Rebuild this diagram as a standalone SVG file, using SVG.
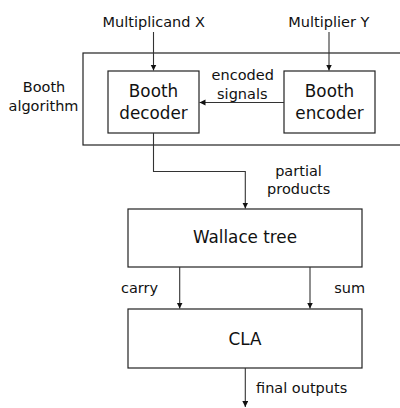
<svg xmlns="http://www.w3.org/2000/svg" width="400" height="408" viewBox="0 0 400 408">
<defs>
<style>
text{font-family:"DejaVu Sans","Liberation Sans",sans-serif;fill:#111;text-anchor:middle}
.lbl{font-size:14.5px}
.box{font-size:16.8px}
.n{fill:#fff;stroke:#222;stroke-width:1.2}
.c{fill:none;stroke:#333;stroke-width:1.1}
</style>
<marker id="ah" markerWidth="7" markerHeight="7" refX="6" refY="3" orient="auto" markerUnits="userSpaceOnUse">
<path d="M0,0 L6,3 L0,6 Z" fill="#111"/>
</marker>
</defs>
<rect width="400" height="408" fill="#fff"/>
<g id="booth-algorithm">
<rect class="n" x="83" y="53" width="322" height="92"/>
<text class="lbl" x="44" y="91.5">Booth</text>
<text class="lbl" x="43.5" y="110.5">algorithm</text>
</g>
<g id="booth-decoder">
<rect class="n" x="108" y="71" width="91" height="62"/>
<text class="box" x="153.5" y="96.5">Booth</text>
<text class="box" x="153.5" y="119">decoder</text>
</g>
<g id="booth-encoder">
<rect class="n" x="284" y="71" width="91" height="62"/>
<text class="box" x="329.5" y="96.5">Booth</text>
<text class="box" x="329.5" y="119">encoder</text>
</g>
<g id="wallace-tree">
<rect class="n" x="128" y="209" width="234" height="58"/>
<text class="box" x="245" y="243.3">Wallace tree</text>
</g>
<g id="cla">
<rect class="n" x="128" y="309" width="234" height="59"/>
<text class="box" x="245" y="345">CLA</text>
</g>
<g id="connectors">
<path class="c" d="M153.5,32 V70.5" marker-end="url(#ah)"/>
<path class="c" d="M329,32 V70.5" marker-end="url(#ah)"/>
<path class="c" d="M284,102.5 H199.5" marker-end="url(#ah)"/>
<path class="c" d="M153.5,133 V171.5 H245.3 V208.5" marker-end="url(#ah)"/>
<path class="c" d="M179.7,267 V308.5" marker-end="url(#ah)"/>
<path class="c" d="M310,267 V308.5" marker-end="url(#ah)"/>
<path class="c" d="M245.3,368 V407" marker-end="url(#ah)"/>
<text class="lbl" x="153.8" y="26.5">Multiplicand X</text>
<text class="lbl" x="328.8" y="26.5">Multiplier Y</text>
<text class="lbl" x="242.7" y="80">encoded</text>
<text class="lbl" x="242.3" y="99">signals</text>
<text class="lbl" x="298.5" y="175.7">partial</text>
<text class="lbl" x="298.7" y="194">products</text>
<text class="lbl" x="139.5" y="293.3">carry</text>
<text class="lbl" x="349.7" y="293.3">sum</text>
<text class="lbl" x="256" y="392.7" style="text-anchor:start">final outputs</text>
</g>
</svg>
